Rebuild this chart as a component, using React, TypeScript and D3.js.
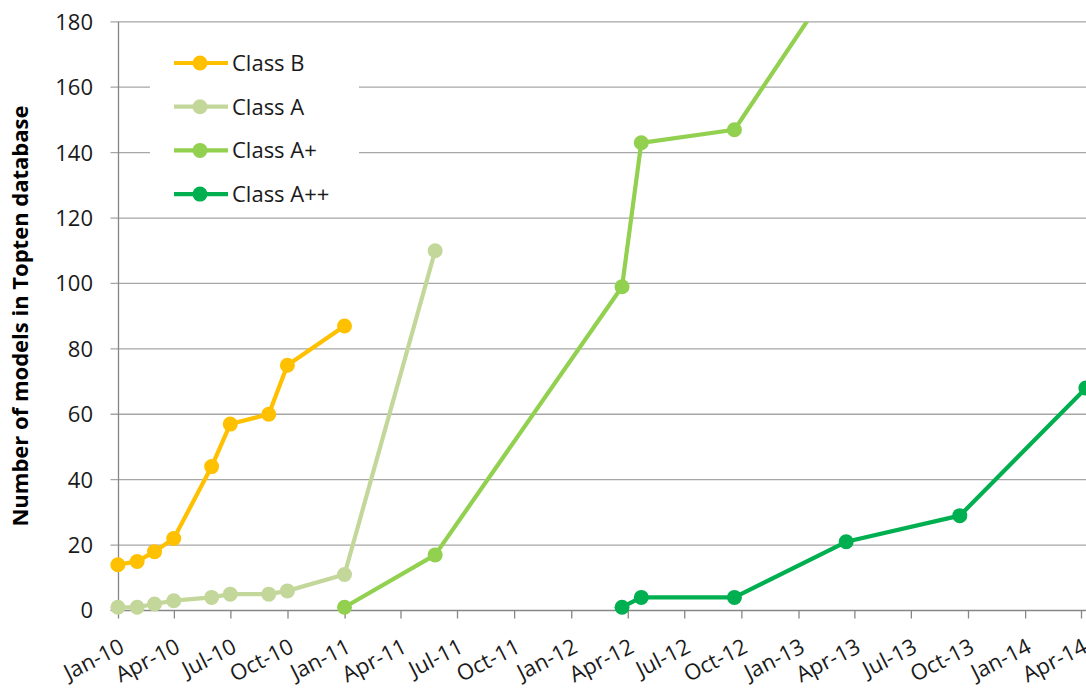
import React from "react";
import * as d3 from "d3";

const seriesNames = ["Class B", "Class A", "Class A+", "Class A++"];
const seriesColors = ["#FFC000", "#C4D79B", "#92D050", "#00B050"];

const classBDates = ["2009-12-31", "2010-01-31", "2010-02-28", "2010-03-31", "2010-05-31", "2010-06-30", "2010-08-31", "2010-09-30", "2010-12-31"];
const classBValues = [14, 15, 18, 22, 44, 57, 60, 75, 87];

const classADates = ["2009-12-31", "2010-01-31", "2010-02-28", "2010-03-31", "2010-05-31", "2010-06-30", "2010-08-31", "2010-09-30", "2010-12-31", "2011-05-26"];
const classAValues = [1, 1, 2, 3, 4, 5, 5, 6, 11, 110];

const classAPlusDates = ["2010-12-31", "2011-05-26", "2012-03-22", "2012-04-22", "2012-09-19", "2013-03-18"];
const classAPlusValues = [1, 17, 99, 143, 147, 198];

const classAPlusPlusDates = ["2012-03-22", "2012-04-22", "2012-09-19", "2013-03-18", "2013-09-17", "2014-04-08"];
const classAPlusPlusValues = [1, 4, 4, 21, 29, 68];

const yTicks = [0, 20, 40, 60, 80, 100, 120, 140, 160, 180];
const axisTitle = "Number of models in Topten database";

const W = 1086;
const H = 688;
const FONT = "'Open Sans', sans-serif";

export default function App() {
  const parse = d3.utcParse("%Y-%m-%d");
  const x = d3
    .scaleUtc()
    .domain([new Date(Date.UTC(2010, 0, 1)), new Date(Date.UTC(2014, 3, 1))])
    .range([118.5, 1081.5]);
  const y = d3.scaleLinear().domain([0, 180]).range([610.5, 21.8]);

  const xTicks = d3.utcMonth.every(3)!.range(new Date(Date.UTC(2010, 0, 1)), new Date(Date.UTC(2014, 3, 2)));
  const fmt = d3.utcFormat("%b-%y");

  const series = [
    { dates: classBDates, values: classBValues },
    { dates: classADates, values: classAValues },
    { dates: classAPlusDates, values: classAPlusValues },
    { dates: classAPlusPlusDates, values: classAPlusPlusValues },
  ].map((s, i) => ({
    name: seriesNames[i],
    color: seriesColors[i],
    points: s.dates.map((d, j) => ({ date: parse(d)!, value: s.values[j] })),
  }));

  const line = d3
    .line<{ date: Date; value: number }>()
    .x((d) => x(d.date))
    .y((d) => y(d.value));

  const plotLeft = x.range()[0];
  const plotTop = y(180);
  const plotBottom = y(0);

  return (
    <svg width={W} height={H} style={{ position: "absolute", left: 0, top: 0, display: "block", background: "#fff" }} fontFamily={FONT}>
      <defs>
        <clipPath id="plotclip">
          <rect x={0} y={plotTop} width={W + 20} height={H} />
        </clipPath>
      </defs>
      {/* gridlines */}
      {yTicks.slice(1).map((t) => (
        <line key={t} x1={plotLeft - 8} x2={W} y1={y(t)} y2={y(t)} stroke="#A6A6A6" strokeWidth={1.3} />
      ))}
      {/* y axis */}
      <line x1={plotLeft} x2={plotLeft} y1={plotTop} y2={plotBottom} stroke="#868686" strokeWidth={1.3} />
      <line x1={plotLeft - 8} x2={plotLeft} y1={plotBottom} y2={plotBottom} stroke="#868686" strokeWidth={1.3} />
      {yTicks.map((t) => (
        <text key={t} x={93} y={y(t)} dy="0.36em" textAnchor="end" fontSize={22} fill="#1a1a1a">
          {t}
        </text>
      ))}
      {/* x axis */}
      <line x1={plotLeft} x2={W} y1={plotBottom} y2={plotBottom} stroke="#868686" strokeWidth={1.3} />
      {xTicks.map((t, i) => (
        <g key={i}>
          <line x1={x(t)} x2={x(t)} y1={plotBottom} y2={plotBottom + 8} stroke="#868686" strokeWidth={1.3} />
          <text
            transform={`translate(${x(t)},${plotBottom + 27}) rotate(-27)`}
            dy="0.72em"
            textAnchor="end"
            fontSize={22}
            fill="#1a1a1a"
          >
            {fmt(t)}
          </text>
        </g>
      ))}
      {/* axis title */}
      <text
        transform={`translate(20,316) rotate(-90)`}
        dy="0.36em"
        textAnchor="middle"
        fontSize={22}
        fontWeight="bold"
        fill="#000"
      >
        {axisTitle}
      </text>
      {/* legend background */}
      <rect x={150} y={38} width={209} height={174} fill="#fff" />
      {/* series */}
      <g clipPath="url(#plotclip)">
        {series.map((s) => (
          <g key={s.name}>
            <path d={line(s.points) || ""} fill="none" stroke={s.color} strokeWidth={4.2} strokeLinejoin="round" />
            {s.points.map((p, j) => (
              <circle key={j} cx={x(p.date)} cy={y(p.value)} r={7.5} fill={s.color} />
            ))}
          </g>
        ))}
      </g>
      {/* legend */}
      {series.map((s, i) => {
        const ly = 63 + i * 43.7;
        return (
          <g key={s.name}>
            <line x1={174} x2={228} y1={ly} y2={ly} stroke={s.color} strokeWidth={4.2} />
            <circle cx={200} cy={ly} r={7.5} fill={s.color} />
            <text x={232} y={ly} dy="0.36em" fontSize={22} fill="#1a1a1a">
              {s.name}
            </text>
          </g>
        );
      })}
    </svg>
  );
}
